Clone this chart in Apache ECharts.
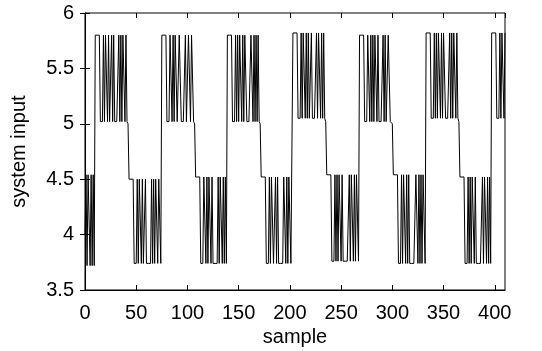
<!DOCTYPE html>
<html>
<head>
<meta charset="utf-8">
<script src="https://cdn.jsdelivr.net/npm/echarts@6/dist/echarts.min.js"></script>
<style>
  html, body { margin: 0; padding: 0; background: #fff; }
  #chart { width: 542px; height: 351px; }
</style>
</head>
<body>
<div id="chart"></div>
<script>
// system input (one array per excitation cycle)
const startSegment = [4.0, 4.54, 3.72, 4.54, 4.54, 3.72, 4.54, 3.72, 4.54, 3.72];

const cycle1 = [
  5.8, 5.8, 5.8, 5.8, 5.8, 5.02, 5.02, 5.02,
  5.8, 5.02, 5.8, 5.8, 5.02, 5.8, 5.02, 5.02, 5.8, 5.02, 5.8,
  5.02, 5.02, 5.02, 5.02,
  5.8, 5.02, 5.8, 5.02, 5.8, 5.8, 5.02, 5.8, 5.02,
  5.0, 4.5, 4.5, 4.5, 4.5, 4.5, 3.74, 3.74, 3.74,
  4.5, 3.74, 4.5, 4.5, 3.74, 4.5, 3.74, 3.74, 4.5, 3.74,
  3.74, 3.74, 3.74, 3.74,
  4.5, 3.74, 4.5, 3.74, 4.5, 4.5, 3.74, 4.5, 4.5, 3.74
];

const cycle2 = [
  5.8, 5.8, 5.8, 5.8, 5.8, 5.02, 5.02, 5.02,
  5.8, 5.8, 5.02, 5.8, 5.02, 5.8, 5.8, 5.02, 5.02, 5.8, 5.8,
  5.02, 5.02, 5.02, 5.02,
  5.8, 5.02, 5.02, 5.8, 5.8, 5.02, 5.8, 5.8, 5.02,
  5.0, 4.52, 4.52, 4.52, 4.52, 4.52, 3.74, 3.74, 3.74,
  4.52, 4.52, 3.74, 4.52, 3.74, 4.52, 4.52, 3.74, 4.52, 3.74,
  3.74, 3.74, 3.74, 3.74,
  4.52, 3.74, 4.52, 4.52, 3.74, 4.52, 3.74, 4.52, 3.74
];

const cycle3 = [
  5.8, 5.8, 5.8, 5.8, 5.8, 5.02, 5.02, 5.02,
  5.8, 5.02, 5.8, 5.02, 5.8, 5.8, 5.02, 5.8, 5.02, 5.8, 5.8,
  5.02, 5.02, 5.02, 5.02,
  5.8, 5.8, 5.02, 5.8, 5.02, 5.8, 5.02, 5.8, 5.02,
  5.0, 4.52, 4.52, 4.52, 4.52, 4.52, 3.74, 3.74, 3.74,
  4.52, 3.74, 4.52, 4.52, 3.74, 3.74, 4.52, 3.74, 4.52, 3.74,
  3.74, 3.74, 3.74, 3.74,
  4.52, 4.52, 3.74, 4.52, 3.74, 4.52, 4.52, 3.74, 3.74
];

const cycle4 = [
  5.82, 5.82, 5.82, 5.82, 5.82, 5.05, 5.05, 5.05,
  5.82, 5.05, 5.82, 5.82, 5.05, 5.82, 5.05, 5.82, 5.05, 5.05, 5.82,
  5.05, 5.05, 5.05, 5.05,
  5.82, 5.05, 5.82, 5.82, 5.05, 5.82, 5.05, 5.82, 5.05,
  5.02, 4.54, 4.54, 4.54, 4.54, 4.54, 3.76, 3.76, 3.76,
  4.54, 3.76, 4.54, 3.76, 4.54, 4.54, 3.76, 4.54, 3.76, 3.76,
  3.76, 3.76, 3.76, 3.76,
  4.54, 3.76, 4.54, 4.54, 3.76, 4.54, 3.76, 4.54, 4.54, 3.76
];

const cycle5 = [
  5.8, 5.8, 5.8, 5.8, 5.8, 5.02, 5.02, 5.02,
  5.8, 5.8, 5.02, 5.8, 5.02, 5.8, 5.02, 5.8, 5.8, 5.02, 5.8,
  5.02, 5.02, 5.02, 5.02,
  5.8, 5.02, 5.8, 5.02, 5.02, 5.8, 5.8, 5.02, 5.02,
  5.0, 4.54, 4.54, 4.54, 4.54, 4.54, 3.74, 3.74, 3.74,
  4.54, 3.74, 4.54, 4.54, 3.74, 4.54, 3.74, 4.54, 3.74, 3.74,
  3.74, 3.74, 3.74, 3.74,
  4.54, 4.54, 3.74, 4.54, 3.74, 4.54, 3.74, 4.54, 4.54, 3.74
];

const cycle6 = [
  5.82, 5.82, 5.82, 5.82, 5.82, 5.05, 5.05, 5.05,
  5.82, 5.05, 5.82, 5.05, 5.82, 5.82, 5.05, 5.82, 5.05, 5.82, 5.82,
  5.05, 5.05, 5.05, 5.05,
  5.82, 5.05, 5.82, 5.05, 5.82, 5.82, 5.05, 5.82, 5.05,
  5.02, 4.52, 4.52, 4.52, 4.52, 4.52, 3.74, 3.74, 3.74,
  4.52, 3.74, 4.52, 3.74, 4.52, 4.52, 3.74, 4.52, 3.74, 3.74,
  3.74, 3.74, 3.74, 3.74,
  4.52, 3.74, 4.52, 4.52, 3.74, 4.52, 3.74, 4.52, 3.74
];

const cycle7 = [
  5.82, 5.82, 5.82, 5.82, 5.82, 5.05, 5.05, 5.05,
  5.82, 5.05, 5.82, 5.82, 5.05, 5.82
];

const xTicks = [0, 50, 100, 150, 200, 250, 300, 350, 400];
const yTicks = [3.5, 4, 4.5, 5, 5.5, 6];

const systemInput = [].concat(startSegment, cycle1, cycle2, cycle3, cycle4, cycle5, cycle6, cycle7);
const seriesData = systemInput.map((v, i) => [i, v]);

const chart = echarts.init(document.getElementById('chart'), null, { renderer: 'canvas' });

const font = 'Liberation Sans, Arial, Helvetica, sans-serif';
const tickStyle = { show: true, inside: true, length: 5, lineStyle: { color: '#000', width: 1 } };

const option = {
  animation: false,
  backgroundColor: '#fff',
  grid: {
    left: 85, right: 37, top: 13, bottom: 61,
    show: true, borderColor: '#000', borderWidth: 1,
    outerBoundsMode: 'none'
  },
  xAxis: [
    {
      type: 'value',
      min: 0, max: 410, interval: 50,
      name: 'sample', nameLocation: 'middle', nameGap: 33,
      nameTextStyle: { fontFamily: font, fontSize: 20, color: '#000' },
      axisLine: { show: true, lineStyle: { color: '#000', width: 1 } },
      axisTick: tickStyle,
      splitLine: { show: false },
      axisLabel: {
        fontFamily: font, fontSize: 20, color: '#000', margin: 13,
        showMaxLabel: false,
        formatter: v => (xTicks.includes(v) ? String(v) : '')
      }
    },
    {
      type: 'value', position: 'top',
      min: 0, max: 410, interval: 50,
      axisLine: { show: false },
      axisTick: tickStyle,
      splitLine: { show: false },
      axisLabel: { show: false }
    }
  ],
  yAxis: [
    {
      type: 'value',
      min: 3.5, max: 6, interval: 0.5,
      name: 'system input', nameLocation: 'middle', nameGap: 56,
      nameTextStyle: { fontFamily: font, fontSize: 20, color: '#000' },
      axisLine: { show: true, lineStyle: { color: '#000', width: 1 } },
      axisTick: tickStyle,
      splitLine: { show: false },
      axisLabel: {
        fontFamily: font, fontSize: 20, color: '#000', margin: 11,
        formatter: v => (yTicks.includes(v) ? String(v) : '')
      }
    },
    {
      type: 'value', position: 'right',
      min: 3.5, max: 6, interval: 0.5,
      axisLine: { show: false },
      axisTick: tickStyle,
      splitLine: { show: false },
      axisLabel: { show: false }
    }
  ],
  series: [
    {
      type: 'line',
      data: seriesData,
      showSymbol: false,
      symbol: 'none',
      sampling: null,
      lineStyle: { color: '#000', width: 1 },
      emphasis: { disabled: true }
    }
  ]
};

chart.setOption(option);
</script>
</body>
</html>
